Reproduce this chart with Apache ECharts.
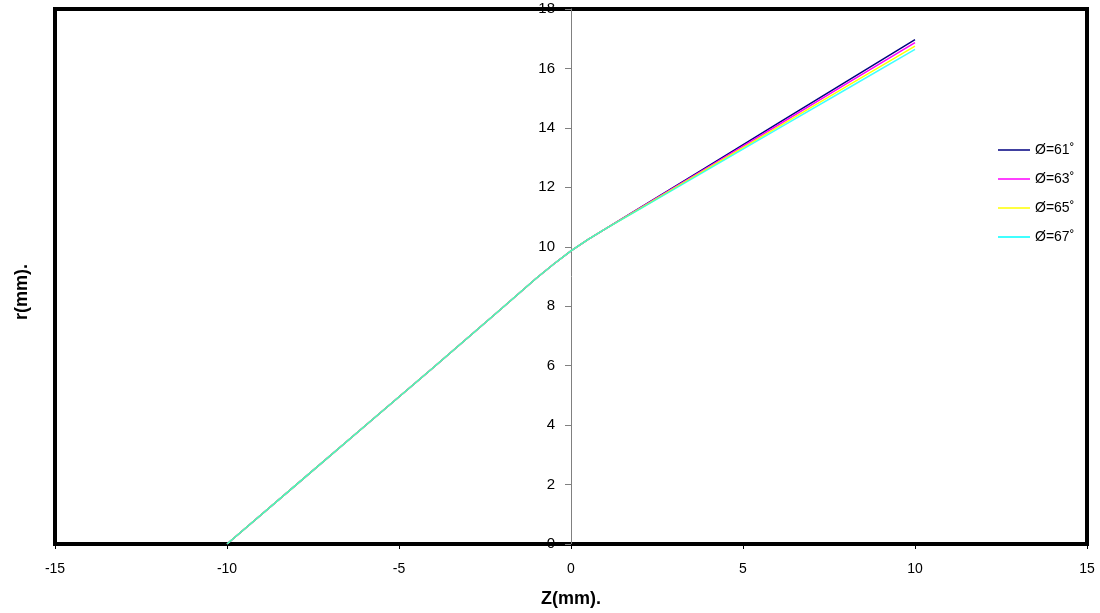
<!DOCTYPE html>
<html>
<head>
<meta charset="utf-8">
<script src="https://cdn.jsdelivr.net/npm/echarts@6/dist/echarts.min.js"></script>
<style>html,body{margin:0;padding:0;background:#fff}#c{width:1100px;height:613px}</style>
</head>
<body>
<div id="c"></div>
<script>
const zValues = [-10, -8, -6, -4, -2, -1, -0.5, 0, 0.5, 1, 2, 4, 6, 8, 10];
const r61 = [0, 1.98, 3.96, 5.94, 7.94, 8.95, 9.42, 9.86, 10.25, 10.6, 11.31, 12.72, 14.14, 15.56, 16.97];
const r63 = [0, 1.98, 3.96, 5.94, 7.94, 8.95, 9.42, 9.86, 10.25, 10.6, 11.30, 12.69, 14.08, 15.48, 16.87];
const r65 = [0, 1.98, 3.96, 5.94, 7.94, 8.95, 9.42, 9.86, 10.25, 10.6, 11.28, 12.65, 14.02, 15.39, 16.75];
const r67 = [0, 1.98, 3.96, 5.94, 7.94, 8.95, 9.42, 9.86, 10.25, 10.6, 11.27, 12.61, 13.96, 15.30, 16.64];
const seriesNames = ['Ø=61˚', 'Ø=63˚', 'Ø=65˚', 'Ø=67˚'];
const seriesColors = ['#000080', '#FF00FF', '#FFFF00', '#00FFFF'];
const xTicks = {min: -15, max: 15, interval: 5};
const yTicks = {min: 0, max: 18, interval: 2};

const allR = [r61, r63, r65, r67];
const chart = echarts.init(document.getElementById('c'), null, {renderer: 'canvas'});
const font = 'Liberation Sans, Arial, sans-serif';
const gridLeft = 55, gridRight = 13;
const plotW = 1100 - gridLeft - gridRight;
const yAxisOffset = -plotW * (0 - xTicks.min) / (xTicks.max - xTicks.min);
chart.setOption({
  animation: false,
  textStyle: {fontFamily: font},
  grid: {left: gridLeft, right: gridRight, top: 9, bottom: 69, outerBoundsMode: 'none', containLabel: false,
         show: true, borderColor: '#000', borderWidth: 4, backgroundColor: 'transparent'},
  legend: {
    orient: 'vertical', left: 993, top: 138, itemWidth: 32, itemHeight: 1.5, itemGap: 15,
    icon: 'rect',
    data: seriesNames,
    textStyle: {fontSize: 14, color: '#000', fontFamily: font}
  },
  xAxis: {
    type: 'value', min: xTicks.min, max: xTicks.max, interval: xTicks.interval,
    name: 'Z(mm).', nameLocation: 'middle', nameGap: 46,
    nameTextStyle: {fontSize: 18, fontWeight: 'bold', color: '#000', fontFamily: font},
    axisLine: {show: true, onZero: false, lineStyle: {color: '#000', width: 1}},
    axisTick: {show: true, length: 5, lineStyle: {color: '#000'}},
    axisLabel: {fontSize: 14, color: '#000', margin: 18, fontFamily: font},
    splitLine: {show: false}
  },
  yAxis: {
    type: 'value', min: yTicks.min, max: yTicks.max, interval: yTicks.interval,
    offset: yAxisOffset,
    axisLine: {show: true, onZero: false, lineStyle: {color: '#808080', width: 1}},
    axisTick: {show: true, length: 6, lineStyle: {color: '#808080'}},
    axisLabel: {fontSize: 15, color: '#000', margin: 16, fontFamily: font},
    splitLine: {show: false}
  },
  graphic: [{
    type: 'text', rotation: Math.PI / 2,
    style: {text: 'r(mm).', fontSize: 18, fontWeight: 'bold', fill: '#000', fontFamily: font, textAlign: 'center', textVerticalAlign: 'middle'},
    x: 22, y: 292
  }],
  series: seriesNames.map((n, i) => ({
    name: n, type: 'line', symbol: 'none', smooth: false,
    color: seriesColors[i],
    lineStyle: {width: 1.5, color: seriesColors[i], opacity: i === 3 ? 0.75 : 1},
    data: zValues.map((z, k) => [z, allR[i][k]]),
    z: 2 + i
  }))
});
</script>
</body>
</html>
